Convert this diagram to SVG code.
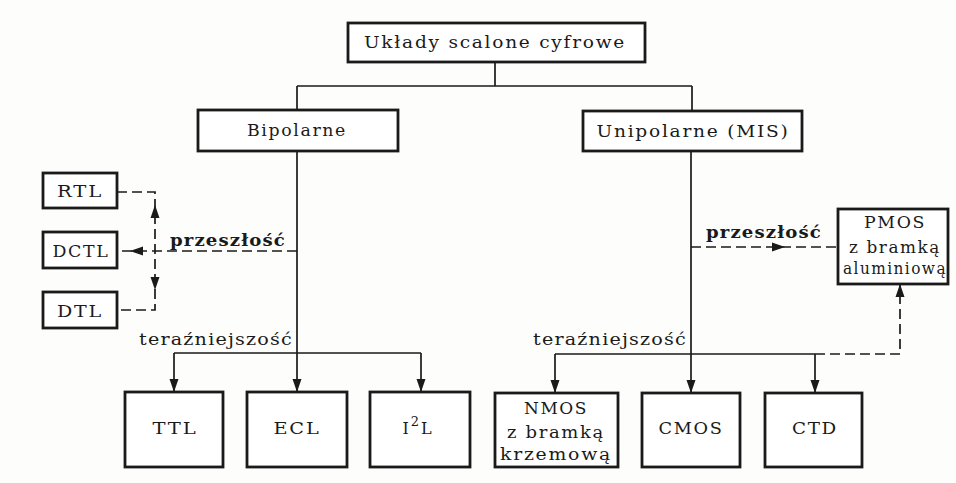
<svg xmlns="http://www.w3.org/2000/svg" xmlns:xlink="http://www.w3.org/1999/xlink" width="956" height="483" viewBox="0 0 956 483">
<style>
.box{fill:#fff;stroke:#1a1a1a;stroke-width:2.8}
.t{font-family:"DejaVu Serif","Liberation Serif",serif;font-size:16px;letter-spacing:1.5px;fill:#1a1a1a;text-anchor:middle}
.lbl{font-family:"DejaVu Serif","Liberation Serif",serif;font-size:16px;font-weight:bold;letter-spacing:1px;fill:#1a1a1a}
.lbn{font-family:"DejaVu Serif","Liberation Serif",serif;font-size:16px;letter-spacing:1px;fill:#1a1a1a}
.ln{fill:none;stroke:#1a1a1a;stroke-width:1.7}
.dash{fill:none;stroke:#1a1a1a;stroke-width:1.7;stroke-dasharray:10 5}
.ah{fill:#1a1a1a}
</style>
<defs>
<path id="ah" d="M0,0 L-13,-4.5 L-13,4.5 Z"/>
</defs>
<rect width="956" height="483" fill="#fdfdfb"/>
<g id="connectors">
<path class="ln" d="M495,62 V86 M297,86 H692 M297,86 V110 M692,86 V111"/>
<path class="ln" d="M297,151 V392 M174,353 H421 M174,353 V392 M421,353 V392"/>
<path class="ln" d="M691,151 V393 M555,354 H815 M555,354 V393 M815,354 V393"/>
<path class="dash" d="M117,192 H155 V310 H117"/>
<path class="dash" d="M297,251 H117"/>
<path class="dash" d="M691,247 H838"/>
<path class="dash" d="M815,354 H900 V284"/>
<g class="ah">
<use xlink:href="#ah" transform="translate(174,392) rotate(90)"/>
<use xlink:href="#ah" transform="translate(297,392) rotate(90)"/>
<use xlink:href="#ah" transform="translate(421,392) rotate(90)"/>
<use xlink:href="#ah" transform="translate(555,393) rotate(90)"/>
<use xlink:href="#ah" transform="translate(691,393) rotate(90)"/>
<use xlink:href="#ah" transform="translate(815,393) rotate(90)"/>
<use xlink:href="#ah" transform="translate(155,205) rotate(-90)"/>
<use xlink:href="#ah" transform="translate(155,290) rotate(90)"/>
<use xlink:href="#ah" transform="translate(130,251) rotate(180)"/>
<use xlink:href="#ah" transform="translate(785,247)"/>
<use xlink:href="#ah" transform="translate(900,284) rotate(-90)"/>
</g>
<text class="lbl" x="170" y="246" textLength="116" lengthAdjust="spacingAndGlyphs">przeszłość</text>
<text class="lbl" x="706" y="238" textLength="116" lengthAdjust="spacingAndGlyphs">przeszłość</text>
<text class="lbn" x="139" y="345" textLength="154" lengthAdjust="spacingAndGlyphs">teraźniejszość</text>
<text class="lbn" x="533" y="345" textLength="154" lengthAdjust="spacingAndGlyphs">teraźniejszość</text>
</g>
<g id="root"><rect class="box" x="348" y="23" width="297" height="39"/><text class="t" x="495" y="48" textLength="262" lengthAdjust="spacingAndGlyphs">Układy scalone cyfrowe</text></g>
<g id="bipolarne"><rect class="box" x="198" y="110" width="200" height="41"/><text class="t" x="297" y="136" textLength="100" lengthAdjust="spacingAndGlyphs">Bipolarne</text></g>
<g id="unipolarne"><rect class="box" x="583" y="111" width="219" height="40"/><text class="t" x="693" y="137" textLength="193" lengthAdjust="spacingAndGlyphs">Unipolarne (MIS)</text></g>
<g id="rtl"><rect class="box" x="43" y="173" width="74" height="35"/><text class="t" x="80" y="197" textLength="46" lengthAdjust="spacingAndGlyphs">RTL</text></g>
<g id="dctl"><rect class="box" x="43" y="232" width="74" height="36"/><text class="t" x="81" y="257" textLength="57" lengthAdjust="spacingAndGlyphs">DCTL</text></g>
<g id="dtl"><rect class="box" x="43" y="292" width="74" height="36"/><text class="t" x="80" y="317" textLength="46" lengthAdjust="spacingAndGlyphs">DTL</text></g>
<g id="ttl"><rect class="box" x="125" y="392" width="98" height="75"/><text class="t" x="175" y="434" textLength="45" lengthAdjust="spacingAndGlyphs">TTL</text></g>
<g id="ecl"><rect class="box" x="247" y="392" width="100" height="75"/><text class="t" x="297" y="434" textLength="47" lengthAdjust="spacingAndGlyphs">ECL</text></g>
<g id="i2l"><rect class="box" x="370" y="392" width="100" height="75"/><text class="t" x="418" y="434" style="letter-spacing:2px">I<tspan dy="-8" font-size="13">2</tspan><tspan dy="8">L</tspan></text></g>
<g id="nmos"><rect class="box" x="495" y="393" width="123" height="74"/><text class="t" x="556" y="414" textLength="64" lengthAdjust="spacingAndGlyphs">NMOS</text><text class="t" x="556" y="438" textLength="98" lengthAdjust="spacingAndGlyphs">z bramką</text><text class="t" x="556" y="460" textLength="112" lengthAdjust="spacingAndGlyphs">krzemową</text></g>
<g id="cmos"><rect class="box" x="642" y="393" width="98" height="74"/><text class="t" x="691" y="434" textLength="65" lengthAdjust="spacingAndGlyphs">CMOS</text></g>
<g id="ctd"><rect class="box" x="765" y="393" width="97" height="74"/><text class="t" x="815" y="434" textLength="46" lengthAdjust="spacingAndGlyphs">CTD</text></g>
<g id="pmos"><rect class="box" x="838" y="209" width="110" height="75"/><text class="t" x="895" y="228" textLength="62" lengthAdjust="spacingAndGlyphs">PMOS</text><text class="t" x="895" y="253" textLength="92" lengthAdjust="spacingAndGlyphs">z bramką</text><text class="t" x="895" y="274" textLength="104" lengthAdjust="spacingAndGlyphs">aluminiową</text></g>
</svg>
